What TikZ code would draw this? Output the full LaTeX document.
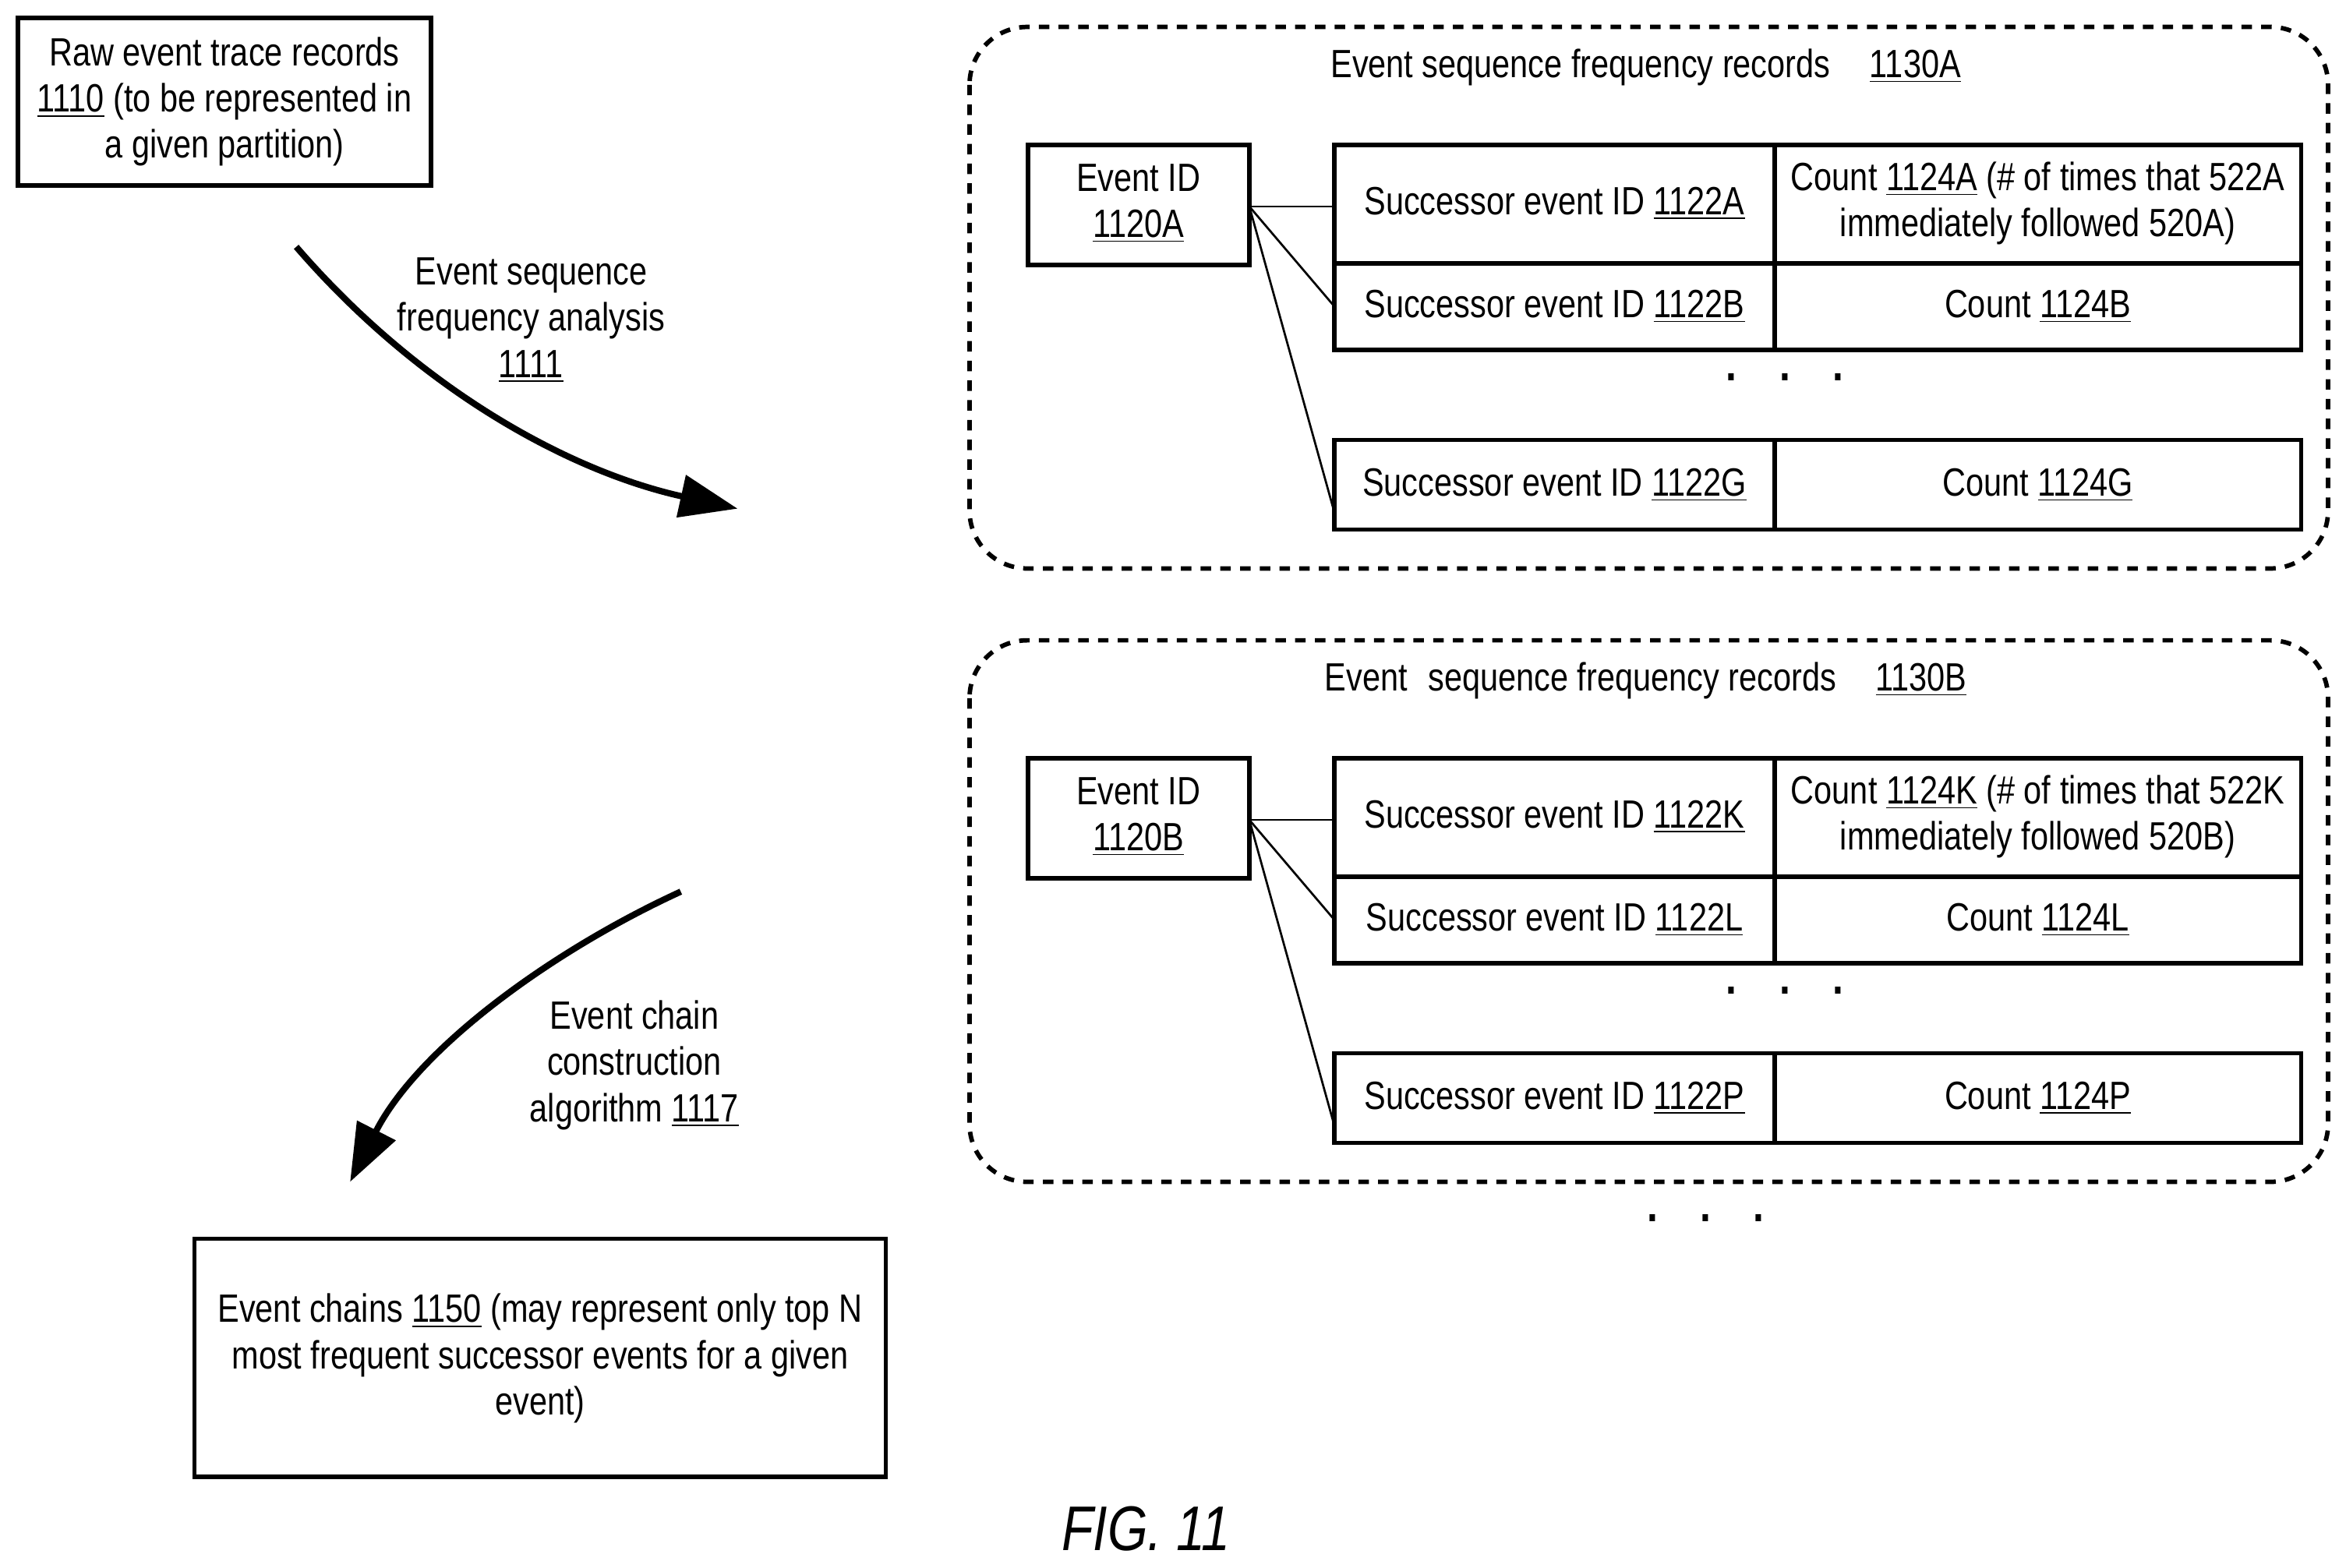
\documentclass[tikz,border=0pt]{standalone}
\usepackage{fontspec}
\setmainfont{Liberation Sans}[FakeStretch=0.82]
\usetikzlibrary{arrows.meta}
\newcommand{\ul}[1]{\underline{#1}}
\newcommand{\dts}{\textbf{.\hspace{0.9em}.\hspace{0.9em}.}}
\begin{document}
\begin{tikzpicture}[x={(0.02cm,0)},y={(0,-0.02cm)},
  every node/.style={font=\fontsize{15}{17.6}\selectfont,align=center,inner sep=0},
  box/.style={draw,line width=1.7pt},
  dbox/.style={draw,line width=1.7pt,dash pattern=on 4pt off 3.5pt,rounded corners=22pt},
  thin/.style={line width=0.8pt},
  dotn/.style={font=\fontsize{18}{20}\selectfont},
  bigarrow/.style={line width=2.4pt,-{Triangle[length=22pt,width=16pt]}}]
\useasboundingbox (0,0) rectangle (1568,1048);
% raw box
\draw[box] (12,12) rectangle (288,124);
\node (raw) at (150,68) {Raw event trace records\\\ul{1110} (to be represented in\\a given partition)};
\coordinate (a1s) at (198,165); \coordinate (a1e) at (493,340);
\draw[bigarrow] (a1s) .. controls (280,260) and (380,315) .. (a1e);
\node (l1) at (355,214) {Event sequence\\frequency analysis\\\ul{1111}};
% group A and B
\foreach \g/\o/\t/\e/\ra/\rb/\rc/\ca/\cb/\cc/\ff/\fe in {A/0/{Event sequence frequency records\hspace{1em}\ul{1130A}}/1120A/1122A/1122B/1122G/1124A/1124B/1124G/522A/520A,
  B/410/{Event\hspace{0.3em} sequence frequency records\hspace{1em}\ul{1130B}}/1120B/1122K/1122L/1122P/1124K/1124L/1124P/522K/520B}{
  \begin{scope}[yshift={-\o*0.02cm}]
  \draw[dbox] (648,18) rectangle (1556,380);
  \node (t\g) at (1100,45) {\t};
  \draw[box] (687,97) rectangle (835,177);
  \node (e\g) at (761,136) {Event ID\\\ul{\e}};
  \draw[box] (892,97) rectangle (1538,234);
  \draw[box] (892,176) -- (1538,176);
  \draw[box] (1186,97) -- (1186,234);
  \draw[box] (892,294) rectangle (1538,354);
  \draw[box] (1186,294) -- (1186,354);
  \node (s1\g) at (1039,136) {Successor event ID \ul{\ra}};
  \node (s2\g) at (1039,205) {Successor event ID \ul{\rb}};
  \node (s3\g) at (1039,324) {Successor event ID \ul{\rc}};
  \node (c1\g) at (1362,136) {Count \ul{\ca} (\# of times that \ff\\immediately followed \fe)};
  \node (c2\g) at (1362,205) {Count \ul{\cb}};
  \node (c3\g) at (1362,324) {Count \ul{\cc}};
  \node[dotn] (d\g) at (1193,252) {\dts};
  \coordinate (p\g) at (835,138);
  \draw[thin] (p\g) -- (892,138);
  \draw[thin] (p\g) -- (892,205);
  \draw[thin] (p\g) -- (892,343);
  \end{scope}}
\node[dotn] (dots) at (1140,814) {\dts};
\coordinate (a2s) at (455,596); \coordinate (a2e) at (234,790);
\draw[bigarrow] (a2s) .. controls (370,635) and (280,700) .. (a2e);
\node (l2) at (424,712) {Event chain\\construction\\algorithm \ul{1117}};
\draw[box] (130,828) rectangle (592,987);
\node (chains) at (361,908) {Event chains \ul{1150} (may represent only top N\\most frequent successor events for a given\\event)};
\node[font=\fontsize{24}{28}\selectfont\itshape] (fig) at (766,1022) {FIG. 11};
\end{tikzpicture}
\end{document}
